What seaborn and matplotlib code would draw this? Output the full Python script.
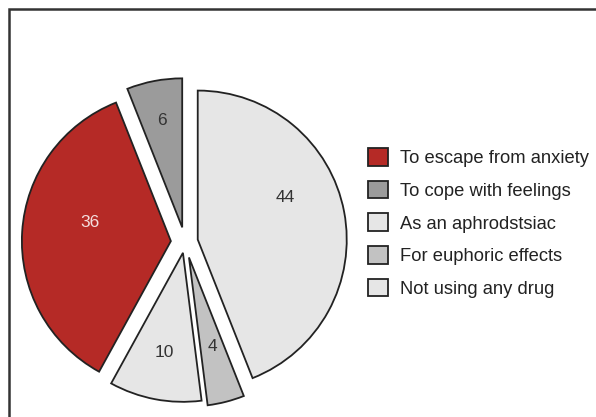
import numpy as np
import matplotlib
matplotlib.use("Agg")
import matplotlib.pyplot as plt
from matplotlib.patches import Rectangle
import seaborn as sns

sns.set_theme(style="white")
plt.rcParams['font.family'] = ['Liberation Sans', 'DejaVu Sans']

# Dados
categorias = ["To escape from anxiety", "To cope with feelings", "As an aphrodstsiac",
              "For euphoric effects", "Not using any drug"]
valores = [36, 6, 44, 4, 10]
cores = ["#b52a26", "#9b9b9b", "#e6e6e6", "#c2c2c2", "#e6e6e6"]
explode = [0.095, 0.10, 0.087, 0.107, 0.074]
cor_texto = ["#f4dede", "#333333", "#333333", "#333333", "#333333"]

# posição dos rótulos (distância relativa e desvio angular)
dist_rotulo = [0.56, 0.73, 0.65, 0.62, 0.68]
desvio_rotulo = [-9.4, 0, 14.7, 0, 0]

fig = plt.figure(figsize=(5.96, 4.17), dpi=100)
fig.patch.set_facecolor("white")

# Moldura (só topo e esquerda aparecem)
fig.add_artist(Rectangle((9 / 596, -0.2), 1.2, 1.2 - 9 / 417,
                         transform=fig.transFigure, fill=False,
                         edgecolor="#333333", linewidth=1.8))

L = 175
ax = fig.add_axes([(185 - L) / 596, (417 - 242 - L) / 417, 2 * L / 596, 2 * L / 417])
lim = L / 149

total = sum(valores)
wedges, texts, autotexts = ax.pie(
    valores, colors=cores, explode=explode, startangle=241.2, counterclock=False,
    autopct=lambda p: f"{p * total / 100:.0f}", pctdistance=0.68,
    wedgeprops=dict(edgecolor="#222222", linewidth=1.3), radius=1,
    textprops=dict(fontsize=12.5), frame=False)
ax.set_xlim(-lim, lim)
ax.set_ylim(-lim, lim)
ax.set_aspect("equal")
ax.axis("off")

for w, t, d, s, c in zip(wedges, autotexts, dist_rotulo, desvio_rotulo, cor_texto):
    meio = np.deg2rad((w.theta1 + w.theta2) / 2 + s)
    cx, cy = w.center
    t.set_position((cx + d * w.r * np.cos(meio), cy + d * w.r * np.sin(meio)))
    t.set_color(c)

fig.legend(wedges, categorias, loc="center left", bbox_to_anchor=(368 / 596, 1 - 223 / 417),
           frameon=False, fontsize=13.2, handlelength=1.1, handleheight=1.1,
           labelspacing=0.74, handletextpad=0.62, borderpad=0, borderaxespad=0,
           labelcolor="#222222")

plt.savefig("out.png", dpi=100)
